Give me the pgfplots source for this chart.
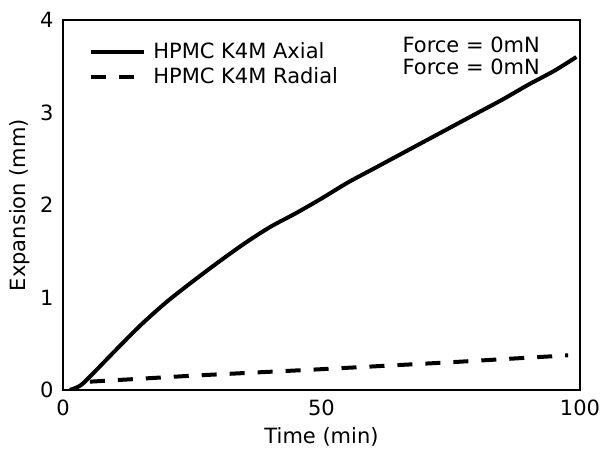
\documentclass[border=0pt]{standalone}
\usepackage{pgfplots}
\pgfplotsset{compat=1.18}
\usepackage{fontspec}
\setmainfont{DejaVu Sans}

\newcommand{\chartfont}{\fontsize{10.5}{12.6}\selectfont}

\begin{document}
\chartfont
\begin{tikzpicture}
\useasboundingbox (0,0) rectangle (300pt,225pt);
\begin{axis}[
  at={(31.5pt,30pt)}, anchor=south west,
  scale only axis, width=258.5pt, height=185pt,
  xmin=0, xmax=100, ymin=0, ymax=4,
  xtick={0,50,100}, ytick={0,1,2,3,4},
  major tick length=0pt,
  axis line style={line width=1.3pt},
  /pgf/number format/assume math mode=true,
  tick label style={font=\chartfont},
  xticklabel style={yshift=-1.5pt},
  yticklabel style={xshift=-1pt},
  xlabel={Time (min)},
  ylabel={Expansion (mm)},
  label style={font=\chartfont},
  xlabel style={at={(axis description cs:0.5,-0.127)}, anchor=center},
  ylabel style={at={(axis description cs:-0.083,0.5)}, anchor=center},
  legend cell align=left,
  legend style={draw=none, fill=none, font=\chartfont,
    at={(axis description cs:0.0385,0.962)}, anchor=north west,
    row sep=-1pt, column sep=0pt},
  legend image code/.code={\draw[#1] (0pt,0pt) -- (26.5pt,0pt); \path (28pt,0pt);},
]
% axial expansion
\addplot[black, line width=2pt, smooth] coordinates {
  (1.3,0) (3.4,0.05) (6,0.19) (10,0.42) (15,0.70) (20,0.95) (25,1.17)
  (30,1.38) (35,1.58) (40,1.76) (45,1.91) (50,2.07) (55,2.24) (60,2.39)
  (65,2.54) (70,2.69) (75,2.84) (80,2.99) (85,3.14) (90,3.30) (95,3.45)
  (99.3,3.60)
};
\addlegendentry{HPMC K4M Axial}
% radial expansion
\addplot[black, line width=2pt, dash pattern=on 7.5pt off 6.5pt] coordinates {
  (5.2,0.09) (25,0.155) (50,0.225) (75,0.30) (97.7,0.375)
};
\addlegendentry{HPMC K4M Radial}
\node[anchor=west, inner sep=0pt, font=\chartfont] at (rel axis cs:0.656,0.932) {Force = 0mN};
\node[anchor=west, inner sep=0pt, font=\chartfont] at (rel axis cs:0.656,0.873) {Force = 0mN};
\end{axis}
\end{tikzpicture}
\end{document}
